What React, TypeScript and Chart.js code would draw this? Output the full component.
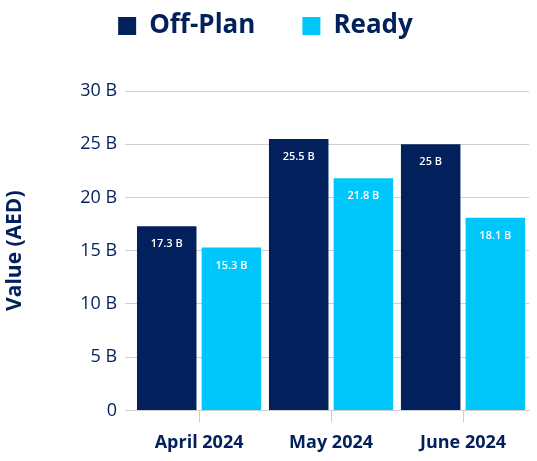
import React, { useEffect, useRef } from "react";
import { Chart, registerables } from "chart.js";

Chart.register(...registerables);

const categories = ["April 2024", "May 2024", "June 2024"];
const offPlan = [17.3, 25.5, 25];
const ready = [15.3, 21.8, 18.1];
const yTicks = [0, 5, 10, 15, 20, 25, 30];

const NAVY = "#02205c";
const CYAN = "#00c7fb";
const FONT = "'Open Sans', sans-serif";

const fmt = (v: number) => (v === 0 ? "0" : `${v} B`);

const labelPlugin = {
  id: "barLabels",
  afterDatasetsDraw(chart: any) {
    const ctx = chart.ctx;
    ctx.save();
    ctx.fillStyle = "#ffffff";
    ctx.font = `600 11px ${FONT}`;
    ctx.textAlign = "center";
    ctx.textBaseline = "middle";
    chart.data.datasets.forEach((ds: any, i: number) => {
      const meta = chart.getDatasetMeta(i);
      meta.data.forEach((bar: any, j: number) => {
        const v = ds.data[j] as number;
        ctx.fillText(`${v} B`, bar.x, bar.y + 18);
      });
    });
    ctx.restore();
  },
};

const legendSpace = {
  id: "legendSpace",
  beforeInit(chart: any) {
    const orig = chart.legend.fit;
    chart.legend.fit = function () {
      orig.bind(this)();
      this.height += 42;
    };
  },
};

export default function App() {
  const ref = useRef<HTMLCanvasElement>(null);
  useEffect(() => {
    document.body.style.margin = "0";
    const chart = new Chart(ref.current!, {
      type: "bar",
      data: {
        labels: categories,
        datasets: [
          { label: "Off-Plan", data: offPlan, backgroundColor: NAVY, categoryPercentage: 0.98, barPercentage: 0.92 },
          { label: "Ready", data: ready, backgroundColor: CYAN, categoryPercentage: 0.98, barPercentage: 0.92 },
        ],
      },
      options: {
        animation: false,
        responsive: true,
        maintainAspectRatio: false,
        layout: { padding: { left: 2, right: 8, bottom: -3, top: -34 } },
        plugins: {
          tooltip: { enabled: false },
          legend: {
            position: "top",
            labels: {
              boxWidth: 18,
              boxHeight: 18,
              padding: 47,
              color: NAVY,
              font: { family: FONT, size: 26, weight: "bold" },
            },
          },
        },
        scales: {
          x: {
            grid: { display: true, drawOnChartArea: false, offset: false, tickLength: 12, color: "#cfcfcf" },
            border: { color: "#cfcfcf" },
            ticks: { color: NAVY, font: { family: FONT, size: 18, weight: "bold" }, padding: 10 },
          },
          y: {
            min: 0,
            max: 30,
            afterBuildTicks: (axis: any) => {
              axis.ticks = yTicks.map((v) => ({ value: v }));
            },
            grid: { color: "#cfcfcf", tickLength: 8 },
            border: { display: false },
            ticks: {
              color: NAVY,
              font: { family: FONT, size: 18 },
              padding: 8,
              callback: (v: any) => fmt(Number(v)),
            },
            title: {
              display: true,
              text: "Value (AED)",
              color: NAVY,
              font: { family: FONT, size: 21, weight: "bold" },
              padding: { top: 0, bottom: 45 },
            },
          },
        },
      },
      plugins: [labelPlugin, legendSpace],
    });
    return () => chart.destroy();
  }, []);
  return (
    <div style={{ position: "fixed", left: 0, top: 0, width: 537, height: 461 }}>
      <canvas ref={ref} />
    </div>
  );
}
